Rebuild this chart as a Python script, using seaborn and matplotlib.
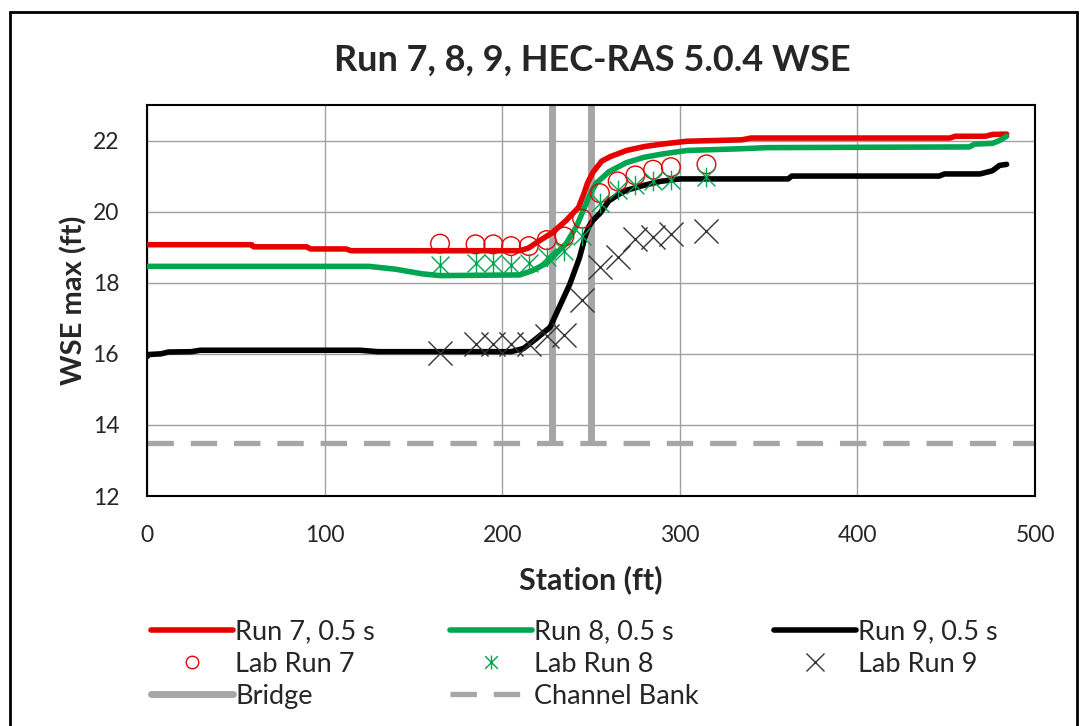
import matplotlib
matplotlib.use("Agg")
import matplotlib.pyplot as plt
import seaborn as sns
from matplotlib.lines import Line2D
from matplotlib.path import Path
from matplotlib.patches import Rectangle

# HEC-RAS model results (station ft, WSE ft)
run7_x = [0, 59, 60, 90, 92, 112, 115, 210, 215, 220, 228, 236, 243, 246, 248, 251, 256, 261,
          270, 280, 290, 304, 335, 340, 452, 455, 472, 476, 484]
run7_y = [19.07, 19.07, 19.01, 19.01, 18.95, 18.95, 18.9, 18.9, 18.98, 19.15, 19.4, 19.75, 20.12,
          20.5, 20.8, 21.1, 21.42, 21.55, 21.72, 21.83, 21.9, 21.98, 22.02, 22.07, 22.07, 22.12,
          22.12, 22.17, 22.18]

run8_x = [0, 125, 140, 155, 165, 210, 217, 225, 230, 236, 242, 247, 250, 253, 260, 270, 280,
          290, 304, 335, 349, 463, 466, 476, 480, 484]
run8_y = [18.46, 18.46, 18.38, 18.25, 18.2, 18.22, 18.34, 18.55, 18.8, 19.1, 19.6, 20.2, 20.55,
          20.8, 21.12, 21.38, 21.53, 21.62, 21.72, 21.77, 21.8, 21.82, 21.9, 21.92, 22.0, 22.12]

run9_x = [0, 1, 8, 12, 25, 30, 120, 130, 205, 212, 219, 227, 232, 238, 243.5, 247, 249, 251, 255,
          260, 266, 270, 279, 289, 300, 361, 363, 446, 449, 469, 476, 480, 484]
run9_y = [15.92, 15.98, 16.0, 16.05, 16.06, 16.1, 16.1, 16.06, 16.06, 16.15, 16.42, 16.75, 17.3,
          17.95, 18.7, 19.35, 19.6, 19.75, 19.95, 20.3, 20.5, 20.6, 20.73, 20.85, 20.92, 20.92,
          21.0, 21.0, 21.06, 21.06, 21.15, 21.3, 21.33]

# lab measurements
lab_x = [165, 185, 195, 205, 215, 225, 235, 245, 255, 265, 275, 285, 295, 315]
lab7 = [19.1, 19.08, 19.08, 19.03, 19.03, 19.2, 19.3, 19.8, 20.52, 20.85, 21.02, 21.18, 21.25, 21.33]
lab8 = [18.5, 18.55, 18.55, 18.5, 18.55, 18.72, 18.88, 19.32, 20.24, 20.6, 20.75, 20.87, 20.9, 20.97]
lab9 = [16.02, 16.27, 16.27, 16.27, 16.27, 16.5, 16.52, 17.5, 18.45, 18.72, 19.23, 19.28, 19.37, 19.46]

bridge_x = [228, 250]
bridge_y = [13.5, 23]
bank_x = [0, 500]
bank_y = [13.5, 13.5]

RED = "#e60000"
GREEN = "#00a550"
BLACK = "#000000"
GREY = "#a6a6a6"

sns.set_style("white")
plt.rcParams["font.family"] = ["Lato", "DejaVu Sans"]

fig = plt.figure(figsize=(10.87, 7.26), dpi=100)
ax = fig.add_axes([0.1352, 0.3168, 0.8170, 0.5386])

# asterisk marker like Excel's star
star = Path([(-1, -1), (1, 1), (-1, 1), (1, -1), (0, -1.1), (0, 1.1)],
            [Path.MOVETO, Path.LINETO] * 3)

# bridge and channel bank
for bx in bridge_x:
    ax.plot([bx, bx], bridge_y, color=GREY, lw=5, zorder=2, solid_capstyle="butt")
ax.plot(bank_x, bank_y, color=GREY, lw=3.8, dashes=(5, 3.2), zorder=2, dash_capstyle="butt")

# model lines
for xs, ys, c in [(run7_x, run7_y, RED), (run8_x, run8_y, GREEN), (run9_x, run9_y, BLACK)]:
    sns.lineplot(x=xs, y=ys, ax=ax, color=c, lw=4, estimator=None, sort=False, zorder=3)

# lab points
sns.scatterplot(x=lab_x, y=lab7, ax=ax, marker="o", s=180, facecolor="none",
                edgecolor=RED, linewidth=1.0, zorder=4)
sns.scatterplot(x=lab_x, y=lab8, ax=ax, marker=star, s=200, color=GREEN,
                edgecolor=GREEN, linewidth=1.0, zorder=4)
sns.scatterplot(x=lab_x, y=lab9, ax=ax, marker="x", s=300, color="#333333",
                linewidth=1.0, zorder=4)

ax.set_xlim(0, 500)
ax.set_ylim(12, 23)
ax.set_xticks(range(0, 501, 100))
ax.set_yticks(range(12, 23, 2))
ax.grid(True, color="#a0a0a0", lw=1)
ax.set_axisbelow(True)
for sp in ax.spines.values():
    sp.set_color("black")
    sp.set_linewidth(1.5)
    sp.set_visible(True)
ax.tick_params(axis="both", length=0, labelsize=16.5)
ax.tick_params(axis="x", pad=21)
ax.tick_params(axis="y", pad=20)
ax.set_xlabel("Station (ft)", fontsize=22, fontweight="bold", labelpad=14)
ax.set_ylabel("WSE max (ft)", fontsize=21, fontweight="bold")
ax.yaxis.set_label_coords(-0.067, 0.5)

fig.text(0.545, 0.917, "Run 7, 8, 9, HEC-RAS 5.0.4 WSE", ha="center", va="center",
         fontsize=26, fontweight="bold")

# legend, column-major order to get Excel's row layout
handles = [
    Line2D([], [], color=RED, lw=4),
    Line2D([], [], ls="none", marker="o", mfc="none", mec=RED, ms=9, mew=1),
    Line2D([], [], color=GREY, lw=5),
    Line2D([], [], color=GREEN, lw=4),
    Line2D([], [], ls="none", marker=star, color=GREEN, ms=10, mew=1),
    Line2D([], [], color=GREY, lw=3.8, dashes=(5, 3.2)),
    Line2D([], [], color=BLACK, lw=4),
    Line2D([], [], ls="none", marker="x", color="#333333", ms=13, mew=1),
]
labels = ["Run 7, 0.5 s", "Lab Run 7", "Bridge", "Run 8, 0.5 s", "Lab Run 8",
          "Channel Bank", "Run 9, 0.5 s", "Lab Run 9"]
fig.legend(handles, labels, ncol=3, loc="upper left", bbox_to_anchor=(0.139, 0.147),
           frameon=False, fontsize=19.5, handlelength=3.03, handletextpad=0.08,
           columnspacing=2.77, labelspacing=0.27, borderpad=0, borderaxespad=0)

# outer chart border
fig.patches.append(Rectangle((10 / 1087, -0.05), 1067 / 1087, 1.05 - 12 / 726,
                             transform=fig.transFigure, fill=False, ec="black", lw=2))

fig.savefig("out.png", dpi=100)
